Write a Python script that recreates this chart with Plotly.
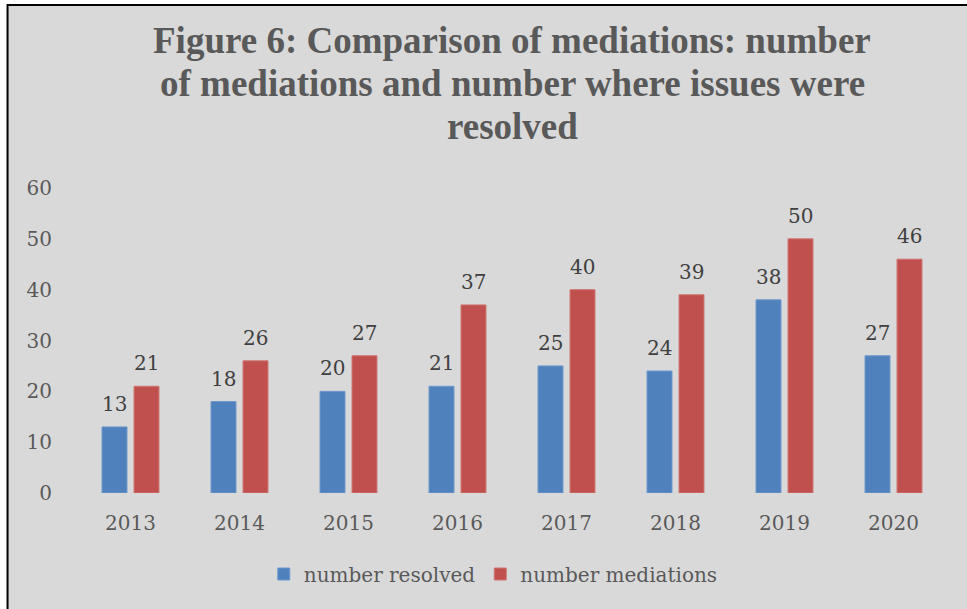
import plotly.graph_objects as go

years = ["2013", "2014", "2015", "2016", "2017", "2018", "2019", "2020"]
resolved = [13, 18, 20, 21, 25, 24, 38, 27]
mediations = [21, 26, 27, 37, 40, 39, 50, 46]
y_ticks = [0, 10, 20, 30, 40, 50, 60]
title_lines = [
    "Figure 6: Comparison of mediations: number",
    "of mediations and number where issues were",
    "resolved",
]

W, H = 967, 609
L, R, T, B = 75.5, 19, 188, 116
PW, PH = W - L - R, H - T - B


def px_x(px):
    return (px - L) / PW


def px_y(py):
    return (H - B - py) / PH


num_font = "DejaVu Serif"
blue, red = "#4F81BD", "#C0504D"

fig = go.Figure()
fig.add_trace(go.Bar(
    x=years, y=resolved, name="number resolved",
    marker=dict(color=blue, line=dict(color="#6f98cc", width=1)),
))
fig.add_trace(go.Bar(
    x=years, y=mediations, name="number mediations",
    marker=dict(color=red, line=dict(color="#cf7573", width=1)),
))

annotations = []
# title lines
for i, line in enumerate(title_lines):
    annotations.append(dict(
        text=line, xref="paper", yref="paper",
        x=px_x(512), y=px_y(40 + 43 * i), xanchor="center", yanchor="middle",
        showarrow=False,
        font=dict(family="Liberation Serif", size=37, color="#595959", weight="bold"),
    ))
# data labels (x given as category index on the category axis)
for series, shift in ((resolved, -16), (mediations, 16)):
    for idx, v in enumerate(series):
        annotations.append(dict(
            text=str(v), x=idx, y=v, xref="x", yref="y",
            xshift=shift, yshift=9, xanchor="center", yanchor="bottom",
            showarrow=False,
            font=dict(family=num_font, size=20, color="#404040"),
        ))

fig.update_layout(
    width=W, height=H,
    margin=dict(l=L, r=R, t=T, b=B, pad=0),
    paper_bgcolor="white",
    plot_bgcolor="rgba(0,0,0,0)",
    barmode="group",
    bargap=0.413,
    bargroupgap=0.22,
    xaxis=dict(
        type="category", categoryorder="array", categoryarray=years,
        range=[-0.5, len(years) - 0.5],
        showgrid=False, showline=False, zeroline=False, ticks="",
        tickfont=dict(family=num_font, size=20, color="#595959"),
        ticklabelstandoff=16,
    ),
    yaxis=dict(
        range=[0, 60], tickvals=y_ticks, showgrid=False, showline=False,
        zeroline=False, ticks="",
        tickfont=dict(family=num_font, size=20, color="#595959"),
        ticklabelstandoff=23,
    ),
    legend=dict(
        orientation="h", x=px_x(493), xanchor="center",
        y=px_y(574), yanchor="middle",
        font=dict(family=num_font, size=20, color="#595959"),
        bgcolor="rgba(0,0,0,0)", itemwidth=30,
    ),
    annotations=annotations,
    shapes=[dict(
        type="rect", xref="paper", yref="paper", layer="below",
        x0=px_x(7), x1=px_x(1010), y0=px_y(5), y1=px_y(660),
        fillcolor="#D9D9D9", line=dict(color="black", width=2),
    )],
)

fig.write_html(
    "out.html",
    config={"displayModeBar": False},
    post_script="document.body.style.margin='0';",
)
